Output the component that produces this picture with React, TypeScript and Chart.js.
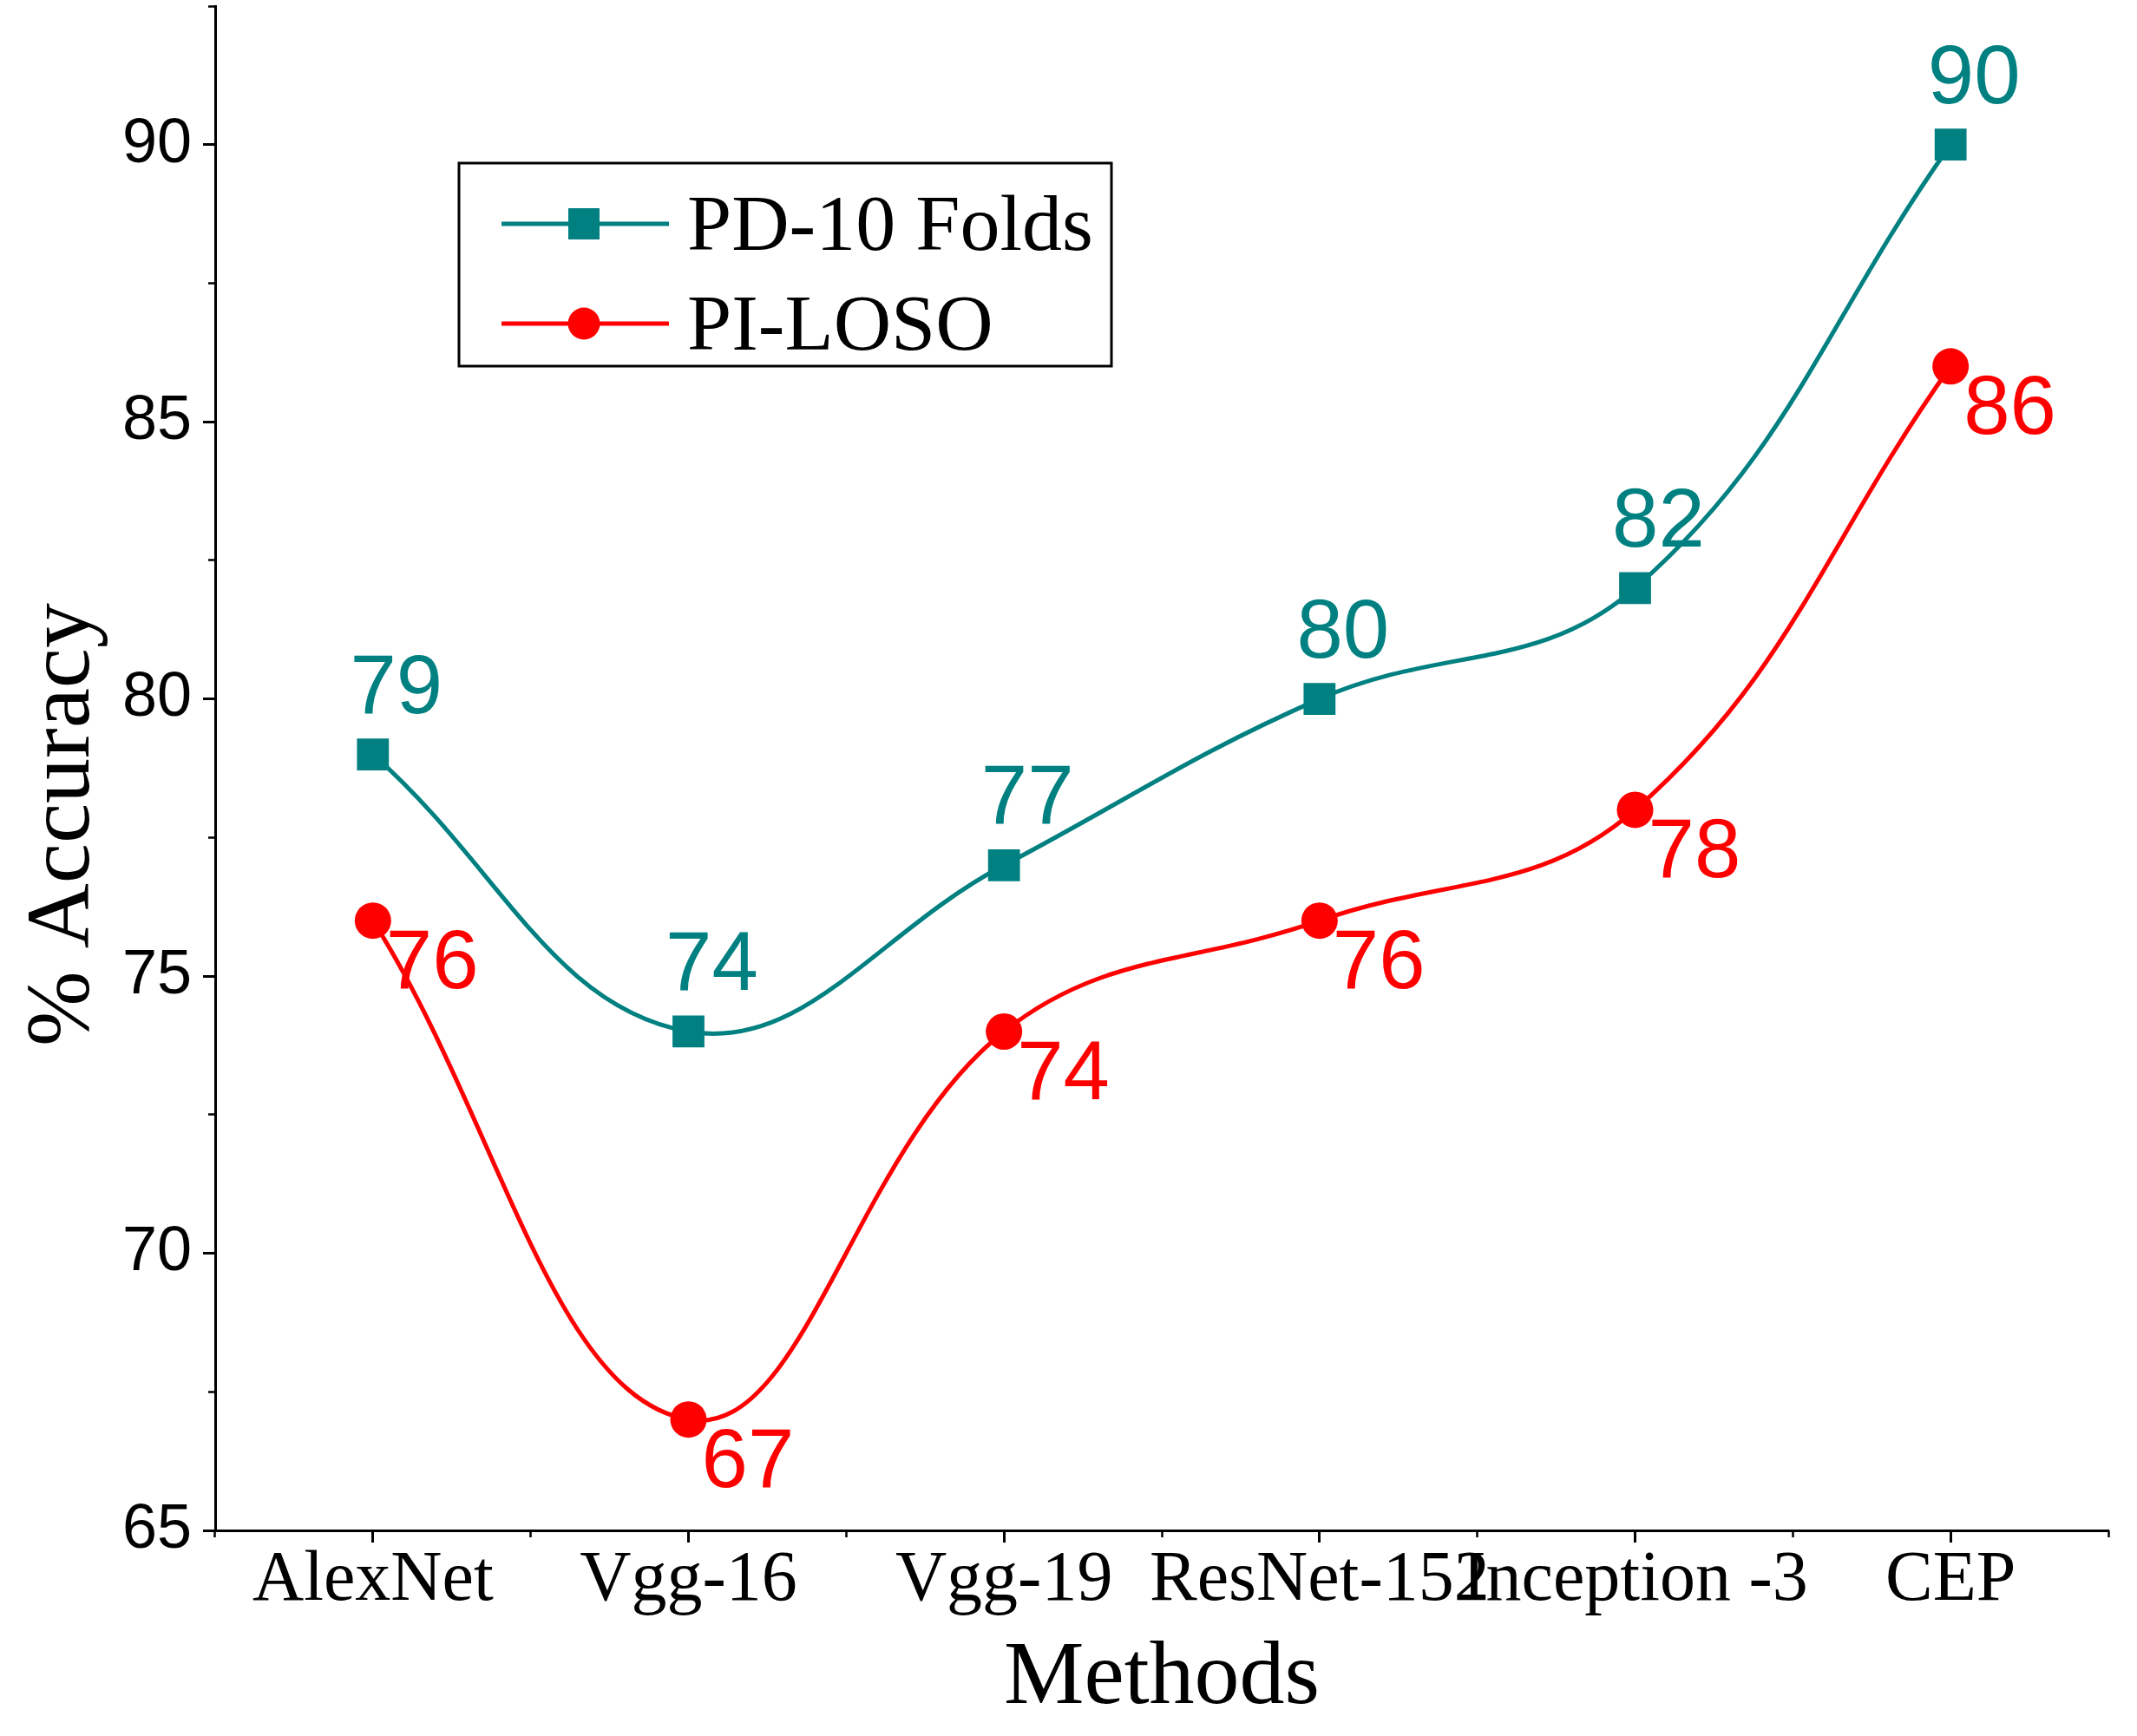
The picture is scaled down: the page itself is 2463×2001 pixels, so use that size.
import React, { useEffect, useRef } from 'react';
import { Chart, registerables } from 'chart.js';

Chart.register(...registerables);

const methods = ['AlexNet', 'Vgg-16', 'Vgg-19', 'ResNet-152', 'Inception -3', 'CEP'];
const pd10Folds = [79, 74, 77, 80, 82, 90];
const piLoso = [76, 67, 74, 76, 78, 86];
const yMin = 65;
const yMax = 92.5;
const yMajorStep = 5;
const yMinorStep = 2.5;

const TEAL = '#008080';
const RED = '#ff0000';
const SERIF = '"Liberation Serif", "Times New Roman", serif';
const SANS = '"Liberation Sans", Arial, sans-serif';

// value labels: teal above the point, red below-right
const valueLabels = {
    id: 'valueLabels',
    afterDatasetsDraw(chart: any) {
        const { ctx } = chart;
        ctx.save();
        ctx.font = `96px ${SANS}`;
        ctx.textBaseline = 'alphabetic';
        chart.data.datasets.forEach((ds: any, i: number) => {
            const meta = chart.getDatasetMeta(i);
            ctx.fillStyle = ds.borderColor;
            meta.data.forEach((pt: any, j: number) => {
                const text = String(ds.data[j]);
                if (i === 0) {
                    ctx.textAlign = 'center';
                    ctx.fillText(text, pt.x + 27, pt.y - 48);
                } else {
                    ctx.textAlign = 'left';
                    ctx.fillText(text, pt.x + 15, pt.y + 78);
                }
            });
        });
        ctx.restore();
    },
};

// boxed legend inside the plot area
const boxLegend = {
    id: 'boxLegend',
    afterDraw(chart: any) {
        const { ctx, chartArea } = chart;
        const left = chartArea.left + 281;
        const top = chartArea.top + 181;
        ctx.save();
        ctx.lineWidth = 3;
        ctx.strokeStyle = '#000';
        ctx.strokeRect(left, top, 752, 234);
        chart.data.datasets.forEach((ds: any, i: number) => {
            const y = top + 70 + i * 115;
            ctx.strokeStyle = ds.borderColor;
            ctx.lineWidth = 5;
            ctx.beginPath();
            ctx.moveTo(left + 49, y);
            ctx.lineTo(left + 242, y);
            ctx.stroke();
            ctx.fillStyle = ds.borderColor;
            if (ds.pointStyle === 'rect') {
                ctx.fillRect(left + 126, y - 18, 36, 36);
            } else {
                ctx.beginPath();
                ctx.arc(left + 144, y, 18.5, 0, Math.PI * 2);
                ctx.fill();
            }
            ctx.fillStyle = '#000';
            ctx.font = `92px ${SERIF}`;
            ctx.textAlign = 'left';
            ctx.textBaseline = 'alphabetic';
            ctx.fillText(ds.label, left + 263, y + 30);
        });
        ctx.restore();
    },
};

const App: React.FC = () => {
    const chartRef = useRef<HTMLCanvasElement>(null);

    useEffect(() => {
        if (!chartRef.current) return;
        const chartInstance = new Chart(chartRef.current, {
            type: 'line',
            data: {
                labels: methods,
                datasets: [
                    {
                        label: 'PD-10 Folds',
                        data: pd10Folds,
                        borderColor: TEAL,
                        backgroundColor: TEAL,
                        borderWidth: 5,
                        tension: 0.4,
                        pointStyle: 'rect',
                        pointRadius: 26,
                        pointBorderWidth: 0,
                        pointBackgroundColor: TEAL,
                        clip: false,
                    },
                    {
                        label: 'PI-LOSO',
                        data: piLoso,
                        borderColor: RED,
                        backgroundColor: RED,
                        borderWidth: 5,
                        tension: 0.4,
                        pointStyle: 'circle',
                        pointRadius: 21,
                        pointBorderWidth: 0,
                        pointBackgroundColor: RED,
                        clip: false,
                    },
                ],
            },
            options: {
                responsive: false,
                animation: false,
                devicePixelRatio: 1,
                layout: { autoPadding: false, padding: { top: 7, right: 33, bottom: 0, left: 0 } },
                plugins: {
                    legend: { display: false },
                    tooltip: { enabled: false },
                },
                scales: {
                    x: {
                        type: 'category',
                        position: 'bottom',
                        weight: 1,
                        offset: true,
                        grid: { drawOnChartArea: false, drawTicks: true, tickLength: 14, tickWidth: 3, tickColor: '#000', offset: false },
                        border: { display: true, color: '#000', width: 3 },
                        ticks: {
                            autoSkip: false,
                            maxRotation: 0,
                            minRotation: 0,
                            color: '#000',
                            padding: 3,
                            font: { family: SERIF, size: 82, lineHeight: 1 },
                        },
                        title: {
                            display: true,
                            text: 'Methods',
                            color: '#000',
                            font: { family: SERIF, size: 104, lineHeight: 1.2 },
                            padding: { top: 0, bottom: 3 },
                        },
                        afterFit: (s: any) => {
                            s.height = 237;
                            s.paddingLeft = 0;
                            s.paddingRight = 0;
                        },
                    },
                    xMinor: {
                        type: 'category',
                        position: 'bottom',
                        weight: 0,
                        offset: true,
                        grid: { drawOnChartArea: false, drawTicks: true, tickLength: 8, tickWidth: 2.5, tickColor: '#000', offset: true },
                        border: { display: false },
                        ticks: { display: false },
                        afterFit: (s: any) => {
                            s.height = 0;
                            s.paddingLeft = 0;
                            s.paddingRight = 0;
                        },
                    },
                    y: {
                        type: 'linear',
                        position: 'left',
                        weight: 1,
                        min: yMin,
                        max: yMax,
                        grid: { drawOnChartArea: false, drawTicks: true, tickLength: 14, tickWidth: 3, tickColor: '#000' },
                        border: { display: true, color: '#000', width: 3 },
                        ticks: {
                            stepSize: yMajorStep,
                            includeBounds: false,
                            color: '#000',
                            padding: 13,
                            font: { family: SANS, size: 72 },
                        },
                        title: {
                            display: true,
                            // trailing spaces nudge the title down like the original
                            text: '% Accuracy     ',
                            color: '#000',
                            font: { family: SERIF, size: 104, lineHeight: 1.2 },
                            padding: { top: 12, bottom: 0 },
                        },
                        afterFit: (s: any) => {
                            s.width = 248;
                            s.paddingTop = 0;
                            s.paddingBottom = 0;
                        },
                    },
                    yMinor: {
                        type: 'linear',
                        position: 'left',
                        weight: 0,
                        min: yMin,
                        max: yMax,
                        grid: { drawOnChartArea: false, drawTicks: true, tickLength: 8, tickWidth: 2.5, tickColor: '#000' },
                        border: { display: false },
                        ticks: { stepSize: yMinorStep, display: false },
                        afterFit: (s: any) => {
                            s.width = 0;
                            s.paddingTop = 0;
                            s.paddingBottom = 0;
                        },
                    },
                },
            },
            plugins: [valueLabels, boxLegend],
        });

        return () => {
            chartInstance.destroy();
        };
    }, []);

    return (
        <div style={{ position: 'absolute', left: 0, top: 0, width: 2463, height: 2001, background: '#fff' }}>
            <canvas ref={chartRef} width={2463} height={2001} style={{ display: 'block' }} />
        </div>
    );
};

export default App;
